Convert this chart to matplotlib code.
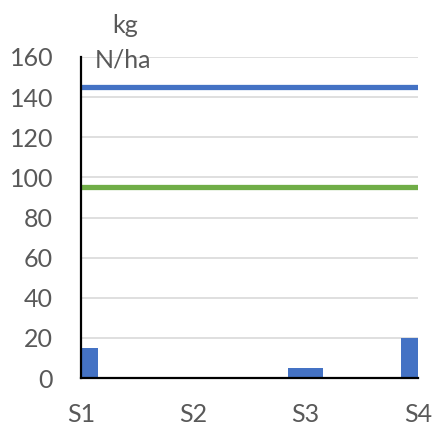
import matplotlib
matplotlib.use("Agg")
import matplotlib.pyplot as plt

# Data
categories = ["S1", "S2", "S3", "S4"]
bar_values = [15, 0, 5, 20]
upper_ref = 145   # blue reference level
lower_ref = 95    # green reference level
y_ticks = [0, 20, 40, 60, 80, 100, 120, 140, 160]

W, H = 435, 425
fig = plt.figure(figsize=(W / 100, H / 100), dpi=100)
ax = fig.add_axes([81 / W, 1 - 378 / H, (418 - 81) / W, (378 - 57) / H])

plt.rcParams["font.family"] = ["Lato", "DejaVu Sans"]
text_color = "#595959"
blue = "#4472C4"
green = "#70AD47"
fam = ["Lato", "DejaVu Sans"]
fs = 18

x = list(range(len(categories)))
ax.bar(x, bar_values, width=0.31, color=blue, zorder=3, clip_on=True)
ax.axhline(upper_ref, color=blue, lw=3.8, zorder=4, solid_capstyle="butt")
ax.axhline(lower_ref, color=green, lw=3.8, zorder=4, solid_capstyle="butt")

ax.set_xlim(0, len(categories) - 1)
ax.set_ylim(0, 160)
ax.set_yticks(y_ticks)
ax.set_xticks(x)
ax.set_xticklabels(categories)
ax.grid(axis="y", color="#D9D9D9", lw=1.2, zorder=0)
ax.set_axisbelow(True)

for s in ["top", "right"]:
    ax.spines[s].set_visible(False)
for s in ["left", "bottom"]:
    ax.spines[s].set_color("black")
    ax.spines[s].set_linewidth(1.6)
    ax.spines[s].set_zorder(5)

ax.tick_params(axis="both", length=0, labelsize=fs, labelcolor=text_color)
ax.tick_params(axis="y", pad=20)
ax.tick_params(axis="x", pad=18)
for lab in ax.get_yticklabels() + ax.get_xticklabels():
    lab.set_fontfamily(fam)

fig.text(112 / W, 1 - 33 / H, "kg", fontsize=fs, color=text_color,
         ha="left", va="baseline", family=fam)
fig.text(95 / W, 1 - 68 / H, "N/ha", fontsize=fs, color=text_color,
         ha="left", va="baseline", family=fam)

fig.savefig("out.png", dpi=100)
